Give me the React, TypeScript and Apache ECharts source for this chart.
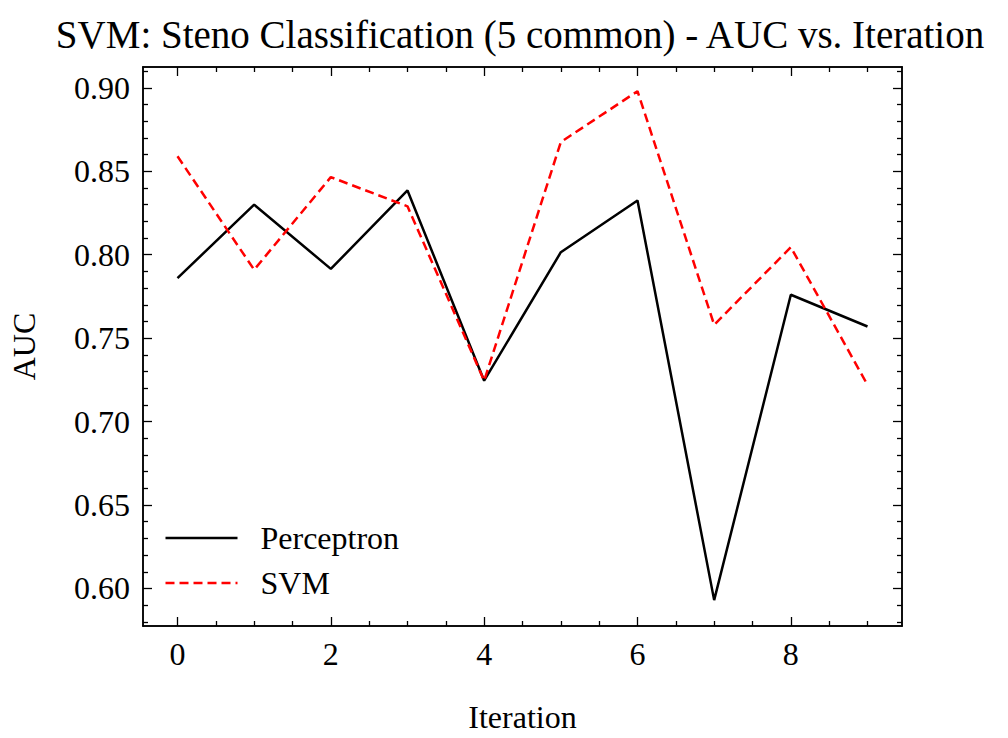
import React, { useEffect, useRef } from 'react';
import * as echarts from 'echarts';

const iterations = [0, 1, 2, 3, 4, 5, 6, 7, 8, 9];
const perceptronAuc = [0.786, 0.830, 0.7915, 0.8385, 0.7245, 0.8015, 0.8325, 0.593, 0.776, 0.757];
const svmAuc = [0.859, 0.791, 0.8465, 0.829, 0.7245, 0.8675, 0.898, 0.758, 0.8045, 0.722];
const xMajor = [0, 2, 4, 6, 8];
const xMinor = [0.5, 1, 1.5, 2.5, 3, 3.5, 4.5, 5, 5.5, 6.5, 7, 7.5, 8.5, 9];
const yMajor = [0.6, 0.65, 0.7, 0.75, 0.8, 0.85, 0.9];
const yMinor = [0.58, 0.59, 0.61, 0.62, 0.63, 0.64, 0.66, 0.67, 0.68, 0.69, 0.71, 0.72, 0.73, 0.74, 0.76, 0.77, 0.78, 0.79, 0.81, 0.82, 0.83, 0.84, 0.86, 0.87, 0.88, 0.89, 0.91];
const legendNames = ['Perceptron', 'SVM'];

const font = 'Liberation Serif';
const X_MIN = -0.45, X_MAX = 9.45, Y_MIN = 0.5775, Y_MAX = 0.9125;

const makeAxis = (kind: 'x' | 'y', position: string, ticks: number[], len: number, labels: boolean, min: number, max: number) => ({
  type: 'value',
  position,
  min,
  max,
  axisLine: { show: true, onZero: false, lineStyle: { color: '#000', width: 1.5 } },
  splitLine: { show: false },
  axisTick: { show: true, inside: true, length: len, customValues: ticks, lineStyle: { color: '#000', width: 1.3 } },
  axisLabel: labels
    ? {
        show: true,
        customValues: ticks,
        color: '#000',
        fontFamily: font,
        fontSize: 32,
        margin: kind === 'y' ? 13 : 12,
        formatter: (v: number) => (kind === 'y' ? v.toFixed(2) : String(v)),
      }
    : { show: false },
  ...(labels && kind === 'x'
    ? { name: 'Iteration', nameLocation: 'middle', nameGap: 75, nameTextStyle: { color: '#000', fontFamily: font, fontSize: 32 } }
    : {}),
  ...(labels && kind === 'y'
    ? { name: 'AUC', nameLocation: 'middle', nameGap: 103, nameTextStyle: { color: '#000', fontFamily: font, fontSize: 32 } }
    : {}),
});

const App: React.FC = () => {
  const ref = useRef<HTMLDivElement | null>(null);

  useEffect(() => {
    document.body.style.margin = '0';
    if (!ref.current) return;
    const chart = echarts.init(ref.current, undefined, { renderer: 'svg' });
    chart.setOption({
      animation: false,
      backgroundColor: '#fff',
      title: {
        text: 'SVM: Steno Classification (5 common) - AUC vs. Iteration',
        left: 515,
        textAlign: 'center',
        top: 10,
        textStyle: { color: '#000', fontFamily: font, fontSize: 39, fontWeight: 'normal' },
      },
      grid: { left: 135, right: 106, top: 67, bottom: 106 },
      graphic: legendNames.map((name, i) => ({
        type: 'group',
        left: 163,
        top: 522 + i * 45,
        children: [
          {
            type: 'line',
            shape: { x1: 0, y1: 17, x2: 72, y2: 17 },
            style: { stroke: i === 0 ? '#000' : '#ff0000', lineWidth: 2.5, lineDash: i === 0 ? null : [9, 5] },
          },
          {
            type: 'text',
            x: 95,
            y: 17,
            style: { text: name, fill: '#000', font: `32px "${font}"`, verticalAlign: 'middle' },
          },
        ],
      })),
      xAxis: [
        makeAxis('x', 'bottom', xMajor, 9, true, X_MIN, X_MAX),
        makeAxis('x', 'bottom', xMinor, 5, false, X_MIN, X_MAX),
        makeAxis('x', 'top', xMajor, 9, false, X_MIN, X_MAX),
        makeAxis('x', 'top', xMinor, 5, false, X_MIN, X_MAX),
      ],
      yAxis: [
        makeAxis('y', 'left', yMajor, 9, true, Y_MIN, Y_MAX),
        makeAxis('y', 'left', yMinor, 5, false, Y_MIN, Y_MAX),
        makeAxis('y', 'right', yMajor, 9, false, Y_MIN, Y_MAX),
        makeAxis('y', 'right', yMinor, 5, false, Y_MIN, Y_MAX),
      ],
      series: [
        {
          name: 'Perceptron',
          type: 'line',
          data: iterations.map((it, i) => [it, perceptronAuc[i]]),
          showSymbol: false,
          color: '#000',
          lineStyle: { color: '#000', width: 2.5 },
        },
        {
          name: 'SVM',
          type: 'line',
          data: iterations.map((it, i) => [it, svmAuc[i]]),
          showSymbol: false,
          color: '#ff0000',
          lineStyle: { color: '#ff0000', width: 2.5, type: [9, 5] },
        },
      ],
    });
    return () => chart.dispose();
  }, []);

  return <div ref={ref} style={{ width: 1008, height: 738 }} />;
};

export default App;
